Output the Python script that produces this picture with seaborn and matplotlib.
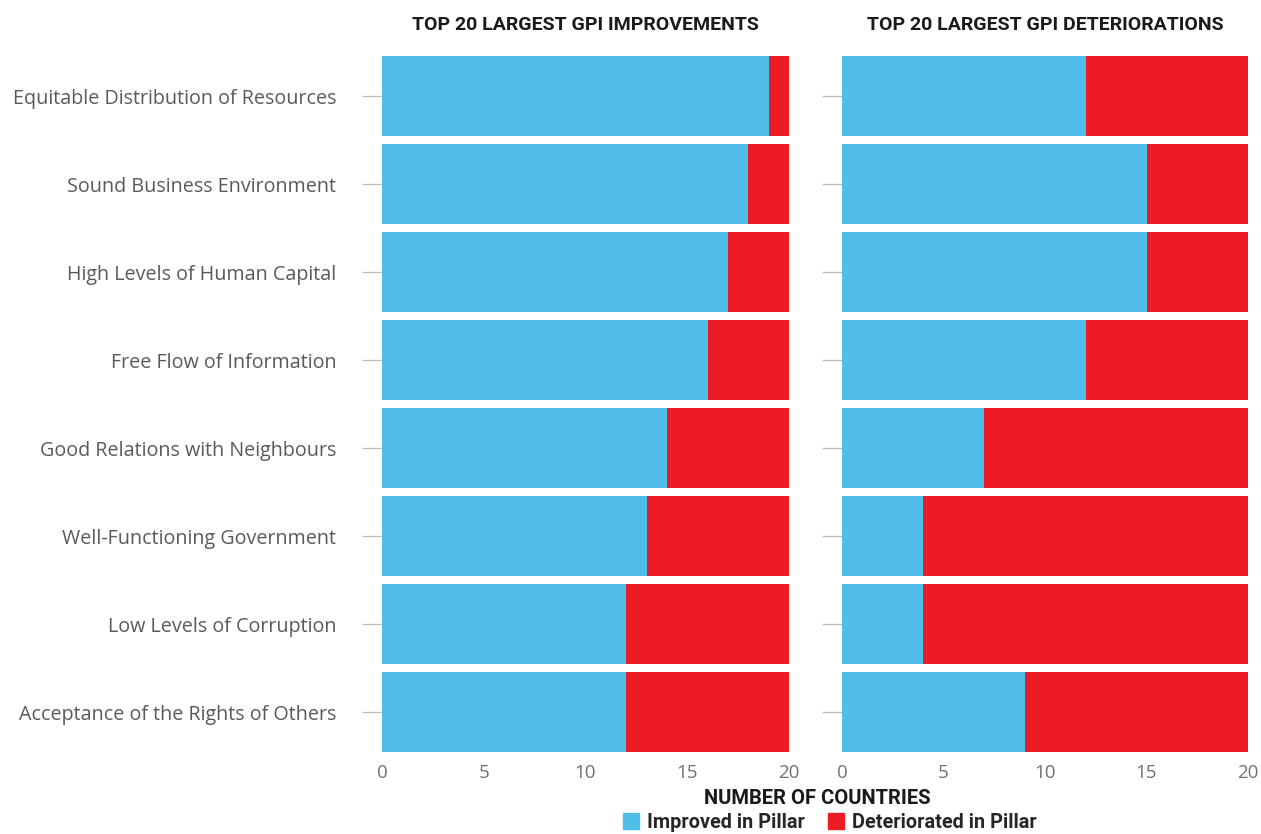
import pandas as pd
import seaborn as sns
import matplotlib.pyplot as plt
from matplotlib.patches import Patch

# Pillars of peace (top to bottom)
pillars = ['Equitable Distribution of Resources', 'Sound Business Environment',
           'High Levels of Human Capital', 'Free Flow of Information',
           'Good Relations with Neighbours', 'Well-Functioning Government',
           'Low Levels of Corruption', 'Acceptance of the Rights of Others']

# Top 20 largest GPI improvements
impr_improved = [19, 18, 17, 16, 14, 13, 12, 12]
impr_deteriorated = [1, 2, 3, 4, 6, 7, 8, 8]

# Top 20 largest GPI deteriorations
det_improved = [12, 15, 15, 12, 7, 4, 4, 9]
det_deteriorated = [8, 5, 5, 8, 13, 16, 16, 11]

panel_titles = ['TOP 20 LARGEST GPI IMPROVEMENTS', 'TOP 20 LARGEST GPI DETERIORATIONS']
x_ticks = [0, 5, 10, 15, 20]

BLUE = '#4FBFEA'
RED = '#ED1C24'
BOLD_FONT = ['Roboto', 'DejaVu Sans']

sns.set_theme(style='white')
plt.rcParams['font.family'] = ['Open Sans', 'DejaVu Sans']

fig = plt.figure(figsize=(12.61, 8.34), dpi=100)
ax1 = fig.add_axes([0.3029, 0.0935, 0.3228, 0.8441])
ax2 = fig.add_axes([0.6677, 0.0935, 0.3220, 0.8441])

panels = [(ax1, impr_improved, impr_deteriorated), (ax2, det_improved, det_deteriorated)]
for i, (ax, imp, det) in enumerate(panels):
    df = pd.DataFrame({'pillar': pillars, 'improved': imp, 'deteriorated': det})
    df['total'] = df['improved'] + df['deteriorated']

    # stacked: draw the total in red, then the improved part in blue on top
    sns.barplot(data=df, y='pillar', x='total', color=RED, width=0.91,
                saturation=1, linewidth=0, ax=ax, orient='h')
    sns.barplot(data=df, y='pillar', x='improved', color=BLUE, width=0.91,
                saturation=1, linewidth=0, ax=ax, orient='h')

    ax.set_xlim(0, 20)
    ax.set_ylim(7.5, -0.5)
    ax.set_xticks(x_ticks)
    ax.set_xlabel('')
    ax.set_ylabel('')
    ax.set_title(panel_titles[i], fontsize=14, fontweight='bold', color='#1a1a1a',
                 pad=16, family=BOLD_FONT)
    sns.despine(ax=ax, left=True, bottom=True)
    ax.tick_params(axis='x', length=0, labelsize=13.5, labelcolor='#707070', pad=6)
    ax.tick_params(axis='y', length=14.4, width=0.9, color='#bbbbbb', pad=18.5,
                   labelsize=14.2, labelcolor='#5a5a5a', left=True)
    if i == 1:
        ax.set_yticklabels([])

fig.text(0.648, 0.043, 'NUMBER OF COUNTRIES', ha='center', va='center',
         fontsize=14.5, fontweight='bold', color='#1a1a1a', family=BOLD_FONT)

handles = [Patch(color=BLUE, label='Improved in Pillar'),
           Patch(color=RED, label='Deteriorated in Pillar')]
leg = fig.legend(handles=handles, loc='center', bbox_to_anchor=(0.658, 0.014), ncol=2,
                 frameon=False, handlelength=0.8, handleheight=0.8, handletextpad=0.4,
                 columnspacing=1.2, borderpad=0.1,
                 prop={'family': BOLD_FONT, 'weight': 'bold', 'size': 14.3})

fig.savefig('out.png', dpi=100, facecolor='white')
